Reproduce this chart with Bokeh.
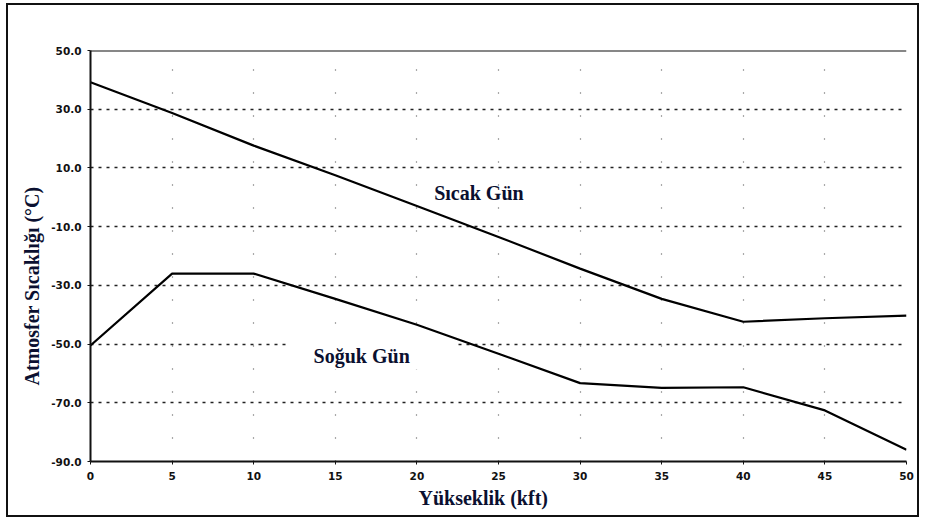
from bokeh.plotting import figure
from bokeh.models import Range1d, Span, Label, FixedTicker, CustomJSTickFormatter, Title
from bokeh.embed import file_html
from bokeh.resources import INLINE

# Data
altitude_kft = [0, 5, 10, 15, 20, 25, 30, 35, 40, 45, 50]
hot_day = [39.2, 28.7, 17.6, 7.5, -3.0, -13.5, -24.3, -34.6, -42.4, -41.2, -40.3]
cold_day = [-50.5, -26.0, -26.0, -34.6, -43.4, -53.3, -63.3, -64.9, -64.7, -72.6, -86.0]

x_ticks = [0, 5, 10, 15, 20, 25, 30, 35, 40, 45, 50]
y_ticks = [-90, -70, -50, -30, -10, 10, 30, 50]

x_title = "Yükseklik (kft)"
y_title = "Atmosfer Sıcaklığı (°C)"
hot_label = "Sıcak Gün"
cold_label = "Soğuk Gün"

p = figure(width=913, height=514, output_backend="svg", toolbar_location=None,
           x_range=Range1d(0, 50), y_range=Range1d(-90, 50),
           min_border_left=82, min_border_right=15, min_border_top=45, min_border_bottom=58)
p.styles = {"border": "2px solid #111111", "margin": "3px 0px 0px 6px"}
p.background_fill_color = "white"
p.border_fill_color = "white"
p.outline_line_color = None

p.line(altitude_kft, hot_day, line_color="black", line_width=2.2)
p.line(altitude_kft, cold_day, line_color="black", line_width=2.2)

# axes
for ax in (p.xaxis[0], p.yaxis[0]):
    ax.axis_line_color = "#111111"
    ax.axis_line_width = 2
    ax.major_tick_in = 0
    ax.major_tick_out = 3
    ax.major_tick_line_color = "#111111"
    ax.minor_tick_line_color = None
    ax.major_label_text_font = "DejaVu Sans"
    ax.major_label_text_font_style = "bold"
    ax.major_label_text_font_size = "10.5px"
    ax.major_label_text_color = "#111111"

p.xaxis.ticker = FixedTicker(ticks=x_ticks)
p.yaxis.ticker = FixedTicker(ticks=y_ticks)
p.yaxis.formatter = CustomJSTickFormatter(code="return tick.toFixed(1);")
p.xaxis.major_label_standoff = 7
p.yaxis.major_label_standoff = 6

# grids
p.ygrid.grid_line_color = "#222222"
p.ygrid.grid_line_dash = "3 5"
p.ygrid.grid_line_width = 1.3
p.xgrid.grid_line_color = "#555555"
p.xgrid.grid_line_dash = "1 22"
p.xgrid.grid_line_width = 1.2

# top frame line
p.add_layout(Span(location=50, dimension="width", line_color="#111111", line_width=2))

font = dict(text_font="Liberation Serif", text_font_style="bold",
            text_font_size="20px", text_color="#0b1030")

# axis titles (off-centre as in the reference)
p.add_layout(Title(text=x_title, align="left", offset=328, standoff=4, **font), "below")
p.add_layout(Title(text=y_title, align="left", offset=76, standoff=12, **font), "left")

p.add_layout(Label(x=23.8, y=1.3, text=hot_label, text_align="center",
                   text_baseline="middle", **font))
p.add_layout(Label(x=17.2, y=-53.9, text=cold_label, text_align="center",
                   text_baseline="middle", background_fill_color="white",
                   padding=dict(left=26, right=45, top=3, bottom=3), **font))

open("out.html", "w").write(file_html(p, INLINE))
